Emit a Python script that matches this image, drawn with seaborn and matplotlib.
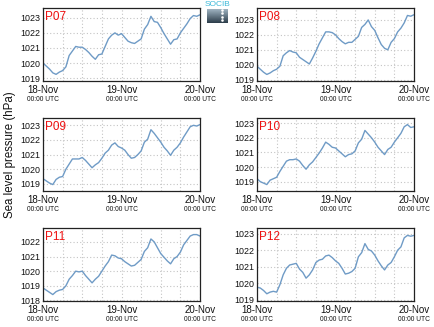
import numpy as np
import pandas as pd
import matplotlib
matplotlib.use("Agg")
import matplotlib.pyplot as plt
import matplotlib.dates as mdates
import matplotlib.transforms as mtransforms
import seaborn as sns

# ---------------- data ----------------
start = pd.Timestamp("2023-11-18 00:00")
hours = list(range(49))
tick_dates = ["2023-11-18", "2023-11-19", "2023-11-20"]
tick_labels = ["18-Nov", "19-Nov", "20-Nov"]
tick_sub = "00:00 UTC"
stations = ["P07", "P08", "P09", "P10", "P11", "P12"]

p07 = [1020.0, 1019.8, 1019.6, 1019.35, 1019.25, 1019.4, 1019.5, 1019.75, 1020.5, 1020.8,
       1021.1, 1021.05, 1021.05, 1020.9, 1020.7, 1020.45, 1020.25, 1020.55, 1020.6, 1021.1,
       1021.6, 1021.85, 1022.0, 1021.85, 1021.95, 1021.7, 1021.45, 1021.35, 1021.3, 1021.45,
       1021.6, 1022.25, 1022.55, 1023.1, 1022.75, 1022.7, 1022.35, 1021.95, 1021.6, 1021.25,
       1021.55, 1021.6, 1022.0, 1022.3, 1022.6, 1022.95, 1023.15, 1023.1, 1023.2]
p08 = [1019.9, 1019.7, 1019.5, 1019.35, 1019.45, 1019.6, 1019.7, 1019.9, 1020.6, 1020.8,
       1020.95, 1020.85, 1020.8, 1020.5, 1020.35, 1020.2, 1020.05, 1020.45, 1020.9, 1021.4,
       1021.8, 1022.2, 1022.2, 1022.15, 1022.0, 1021.75, 1021.55, 1021.4, 1021.5, 1021.5,
       1021.7, 1021.9, 1022.5, 1022.7, 1023.0, 1022.55, 1022.3, 1021.8, 1021.35, 1021.1,
       1021.0, 1021.5, 1021.75, 1022.2, 1022.45, 1022.8, 1023.3, 1023.25, 1023.35]
p09 = [1019.35, 1019.2, 1019.05, 1018.95, 1019.3, 1019.45, 1019.5, 1020.0, 1020.35, 1020.7,
       1020.7, 1020.7, 1020.8, 1020.6, 1020.35, 1020.1, 1020.3, 1020.45, 1020.75, 1021.1,
       1021.3, 1021.65, 1021.8, 1021.55, 1021.45, 1021.3, 1021.0, 1020.75, 1020.8, 1021.0,
       1021.25, 1021.85, 1022.05, 1022.7, 1022.45, 1022.15, 1021.85, 1021.5, 1021.25, 1020.95,
       1021.3, 1021.5, 1021.8, 1022.2, 1022.55, 1022.9, 1023.0, 1022.95, 1023.05]
p10 = [1019.2, 1019.0, 1018.9, 1018.8, 1019.1, 1019.2, 1019.3, 1019.7, 1020.05, 1020.4,
       1020.5, 1020.5, 1020.55, 1020.4, 1020.1, 1019.85, 1020.15, 1020.35, 1020.65, 1020.95,
       1021.3, 1021.7, 1021.55, 1021.35, 1021.3, 1021.1, 1020.9, 1020.7, 1020.85, 1020.9,
       1021.1, 1021.65, 1021.9, 1022.5, 1022.25, 1022.0, 1021.7, 1021.35, 1021.1, 1020.85,
       1021.2, 1021.35, 1021.7, 1022.0, 1022.3, 1022.75, 1022.9, 1022.7, 1022.75]
p11 = [1018.85, 1018.7, 1018.55, 1018.4, 1018.6, 1018.7, 1018.75, 1019.0, 1019.45, 1019.7,
       1020.0, 1019.95, 1020.0, 1019.7, 1019.45, 1019.2, 1019.45, 1019.65, 1020.0, 1020.35,
       1020.65, 1021.1, 1021.05, 1020.9, 1020.85, 1020.65, 1020.5, 1020.35, 1020.4, 1020.6,
       1020.8, 1021.35, 1021.6, 1022.2, 1022.0, 1021.6, 1021.2, 1020.95, 1020.7, 1020.5,
       1020.85, 1021.0, 1021.3, 1021.8, 1022.1, 1022.4, 1022.5, 1022.5, 1022.4]
p12 = [1019.75, 1019.7, 1019.55, 1019.35, 1019.45, 1019.5, 1019.45, 1019.9, 1020.5, 1020.9,
       1021.1, 1021.15, 1021.2, 1020.85, 1020.65, 1020.3, 1020.5, 1020.8, 1021.25, 1021.4,
       1021.45, 1021.65, 1021.7, 1021.55, 1021.35, 1021.2, 1020.9, 1020.55, 1020.6, 1020.7,
       1020.9, 1021.6, 1021.85, 1022.4, 1022.05, 1021.95, 1021.7, 1021.35, 1021.05, 1020.8,
       1021.1, 1021.25, 1021.6, 1022.0, 1022.2, 1022.75, 1022.9, 1022.85, 1022.9]
series = [p07, p08, p09, p10, p11, p12]

# ---------------- style ----------------
sns.set_style("white")
plt.rcParams["font.family"] = ["Liberation Sans", "DejaVu Sans"]

W, H = 434, 327
fig = plt.figure(figsize=(W / 100, H / 100), dpi=100)

col_left = [43, 257]
row_top = [8, 118, 228]
pw, ph = 157, 73

times = [start + pd.Timedelta(hours=h) for h in hours]
line_color = "#6f9bc6"
grid_color = "#c4c4c4"

for i, (name, vals) in enumerate(zip(stations, series)):
    r, c = divmod(i, 2)
    ax = fig.add_axes([col_left[c] / W, 1 - (row_top[r] + ph) / H, pw / W, ph / H])
    df = pd.DataFrame({"time": times, "pressure": vals})
    sns.lineplot(data=df, x="time", y="pressure", ax=ax, color=line_color, lw=1.0)
    ax.set_xlim(pd.Timestamp(tick_dates[0]), pd.Timestamp(tick_dates[-1]))
    lo, hi = min(vals), max(vals)
    ax.set_ylim(lo - 0.44, hi + 0.45)
    ax.set_yticks(np.arange(np.ceil(lo - 0.44), np.floor(hi + 0.45) + 1))
    ax.yaxis.set_major_formatter(matplotlib.ticker.FormatStrFormatter("%d"))
    ax.set_xticks([pd.Timestamp(d) for d in tick_dates])
    ax.set_xticklabels(tick_labels)
    ax.xaxis.set_minor_locator(mdates.HourLocator(byhour=[6, 12, 18]))
    ax.grid(True, which="both", axis="x", color=grid_color, ls=(0, (1, 2)), lw=0.8)
    ax.grid(True, which="major", axis="y", color=grid_color, ls=(0, (1, 2)), lw=0.8)
    ax.tick_params(axis="both", which="both", length=0)
    ax.tick_params(axis="y", labelsize=6.4, pad=2, labelcolor="#111111")
    ax.tick_params(axis="x", labelsize=7, pad=3, labelcolor="#111111")
    ax.set_xlabel("")
    ax.set_ylabel("")
    for sp in ax.spines.values():
        sp.set_color("#222222")
        sp.set_linewidth(0.9)
    trans = mtransforms.blended_transform_factory(ax.transData, ax.transAxes)
    for d in tick_dates:
        ax.text(mdates.date2num(pd.Timestamp(d)), -0.26, tick_sub, transform=trans,
                ha="center", va="center", fontsize=4.8, color="#111111")
    ax.text(0.015, 0.965, name, transform=ax.transAxes, ha="left", va="top",
            fontsize=8.5, color="#ee1111")

fig.text(10 / W, 1 - 155 / H, "Sea level pressure (hPa)", rotation=90,
         ha="center", va="center", fontsize=8.3, color="#111111")

# small logo
lax = fig.add_axes([207 / W, 1 - 23 / H, 21 / W, 14 / H])
grad = np.linspace(0, 1, 20).reshape(-1, 1)
lax.imshow(grad, aspect="auto", cmap=matplotlib.colors.LinearSegmentedColormap.from_list(
    "g", ["#9db1bf", "#2e3f4c"]), extent=[0, 1, 0, 1])
for yy in [0.2, 0.45, 0.7, 0.9]:
    lax.plot([0.72], [yy], marker="s", ms=0.8, color="white")
lax.set_xlim(0, 1)
lax.set_ylim(0, 1)
lax.axis("off")
fig.text(217.5 / W, 1 - 5 / H, "SOCIB", ha="center", va="center", fontsize=6,
         color="#3bb8d8")

fig.savefig("out.png", dpi=100)
